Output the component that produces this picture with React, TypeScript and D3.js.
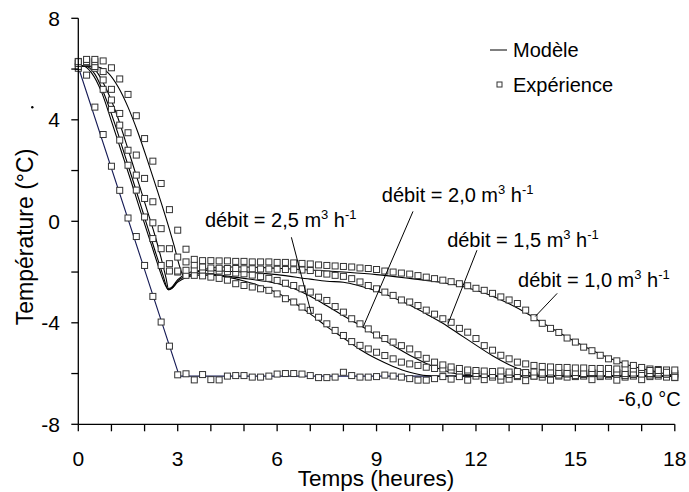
import React from "react";
import * as d3 from "d3";

// ---------- DATA ----------
// Sampling times of the experimental measurements (hours)
const times = [
  0, 0.25, 0.5, 0.75, 1, 1.25, 1.5, 1.75, 2, 2.25, 2.5, 2.75, 3,
  3.25, 3.5, 3.75, 4, 4.25, 4.5, 4.75, 5,
  5.25, 5.5, 5.75, 6, 6.25, 6.5, 6.75, 7,
  7.25, 7.5, 7.75, 8, 8.25, 8.5, 8.75, 9,
  9.25, 9.5, 9.75, 10, 10.25, 10.5, 10.75, 11,
  11.25, 11.5, 11.75, 12, 12.25, 12.5, 12.75, 13,
  13.25, 13.5, 13.75, 14, 14.25, 14.5, 14.75, 15,
  15.25, 15.5, 15.75, 16, 16.25, 16.5, 16.75, 17,
  17.25, 17.5, 17.75, 18,
];

// Experimental temperatures (°C)
const expRef = [
  6.03, 5.76, 4.5, 3.42, 2.17, 1.22, 0.13, -0.6, -1.74, -2.96, -3.97, -4.92, -6.05,
  -6.01, -6.25, -6.04, -6.24, -6.25, -6.1, -6.08, -6.08,
  -6.14, -6.14, -6.1, -6.02, -6.0, -6.0, -6.02, -6.08,
  -6.16, -6.16, -6.14, -5.95, -6.08, -6.14, -6.14, -6.12,
  -6.06, -6.1, -6.14, -6.2, -6.26, -6.26, -6.2, -6.12,
  -6.22, -6.12, -6.26, -6.1, -6.24, -6.14, -6.26, -6.22,
  -6.12, -6.28, -6.1, -6.14, -6.26, -6.1, -6.14, -6.12,
  -6.1, -6.24, -6.12, -6.1, -6.26, -6.14, -6.1, -6.24,
  -6.12, -6.1, -6.14, -6.16,
];
const exp10 = [
  6.29, 6.38, 6.38, 6.32, 6.05, 5.61, 5.0, 4.16, 3.26, 2.37, 1.49, 0.46, -0.35,
  -1.1, -1.5, -1.55, -1.55, -1.56, -1.56, -1.58, -1.58,
  -1.6, -1.6, -1.6, -1.62, -1.62, -1.64, -1.66, -1.68,
  -1.72, -1.74, -1.76, -1.78, -1.8, -1.84, -1.86, -1.9,
  -1.96, -2.0, -2.04, -2.08, -2.14, -2.2, -2.26, -2.32,
  -2.38, -2.46, -2.54, -2.64, -2.72, -2.84, -2.98, -3.1,
  -3.24, -3.5, -3.8, -4.02, -4.22, -4.38, -4.6, -4.76,
  -4.96, -5.1, -5.28, -5.42, -5.5, -5.62, -5.68, -5.76,
  -5.88, -5.88, -5.95, -6.15,
];
const exp15 = [
  6.22, 6.29, 6.29, 5.9, 5.2, 4.25, 3.49, 2.61, 1.69, 0.77, -0.29, -1.08, -1.41,
  -1.6, -1.72, -1.8, -1.84, -1.85, -1.86, -1.86, -1.87,
  -1.87, -1.88, -1.88, -1.89, -1.9, -1.91, -1.92, -1.94,
  -2.05, -2.08, -2.13, -2.17, -2.26, -2.39, -2.53, -2.66,
  -2.79, -2.92, -3.1, -3.18, -3.32, -3.5, -3.66, -3.84,
  -3.98, -4.22, -4.37, -4.62, -4.9, -5.08, -5.28, -5.42,
  -5.55, -5.62, -5.68, -5.72, -5.74, -5.76, -5.76, -5.78,
  -5.78, -5.8, -5.8, -5.8, -5.82, -5.8, -5.82, -5.84,
  -5.82, -5.84, -5.86, -5.86,
];
const exp20 = [
  6.1, 6.3, 6.1, 5.57, 4.78, 3.79, 2.8, 1.82, 0.9, -0.06, -1.08, -1.67, -1.96,
  -1.93, -1.91, -1.92, -1.94, -1.96, -1.99, -2.04, -2.07,
  -2.12, -2.18, -2.25, -2.33, -2.44, -2.53, -2.66, -2.79,
  -2.99, -3.12, -3.36, -3.58, -3.84, -4.04, -4.24, -4.48,
  -4.62, -4.76, -4.9, -5.03, -5.26, -5.4, -5.55, -5.66,
  -5.74, -5.8, -5.86, -5.88, -5.9, -5.92, -5.9, -5.94,
  -5.92, -5.96, -5.94, -5.98, -5.94, -5.96, -5.98, -5.96,
  -6.0, -5.96, -5.98, -6.0, -5.96, -6.0, -5.98, -6.02,
  -6.0, -5.98, -6.02, -6.0,
];
const exp25 = [
  6.3, 6.25, 6.03, 5.2, 4.41, 3.2, 2.21, 1.23, 0.17, -0.68, -1.74, -1.96, -2.0,
  -2.13, -2.13, -2.15, -2.2, -2.25, -2.32, -2.46, -2.53,
  -2.59, -2.66, -2.72, -2.86, -3.05, -3.18, -3.38, -3.51,
  -3.78, -4.04, -4.3, -4.5, -4.74, -4.89, -5.03, -5.16,
  -5.29, -5.42, -5.55, -5.62, -5.68, -5.75, -5.8, -5.82,
  -5.86, -5.9, -5.92, -6.0, -6.04, -6.06, -6.1, -6.04,
  -6.08, -6.02, -6.1, -6.04, -6.0, -6.06, -6.02, -6.08,
  -6.04, -6.0, -6.06, -6.04, -6.02, -6.08, -6.04, -6.0,
  -6.06, -6.04, -6.02, -6.06,
];

// Model curves (time, temperature) key points
const modelRefT = [0, 3.05, 18];
const modelRefV = [6.08, -6.1, -6.1];

const model25T = [0, 0.15, 0.4, 0.7, 1.0, 1.3, 1.6, 1.9, 2.2, 2.45, 2.62, 2.72, 2.82, 3.0, 3.25, 3.6, 4.0, 4.5, 5.0, 5.5, 6.0, 6.5, 7.0, 7.5, 8.0, 8.5, 9.0, 9.5, 10.0, 10.5, 11, 18];
const model25V = [6.12, 6.12, 5.85, 5.1, 3.95, 2.75, 1.55, 0.3, -0.9, -1.9, -2.5, -2.7, -2.65, -2.4, -2.22, -2.12, -2.12, -2.2, -2.35, -2.55, -2.82, -3.2, -3.65, -4.15, -4.6, -5.05, -5.42, -5.72, -5.95, -6.08, -6.1, -6.1];

const model20T = [0, 0.2, 0.5, 0.8, 1.1, 1.4, 1.7, 2.0, 2.3, 2.55, 2.72, 2.85, 3.0, 3.25, 3.6, 4.0, 4.6, 5.0, 5.5, 6.0, 6.5, 7.0, 7.5, 8.0, 8.5, 9.0, 9.5, 10.0, 10.5, 11.0, 11.5, 12, 18];
const model20V = [6.12, 6.12, 5.8, 4.95, 3.85, 2.62, 1.4, 0.15, -1.1, -2.1, -2.7, -2.6, -2.35, -2.15, -2.05, -2.08, -2.18, -2.25, -2.34, -2.45, -2.65, -2.95, -3.33, -3.72, -4.1, -4.5, -4.9, -5.28, -5.6, -5.86, -6.04, -6.1, -6.1];

const model15T = [0, 0.25, 0.55, 0.85, 1.15, 1.45, 1.75, 2.05, 2.3, 2.5, 2.65, 2.72, 2.8, 3.0, 3.25, 3.6, 4.0, 4.6, 5, 6, 7, 7.5, 8.0, 8.5, 9.0, 9.5, 10.0, 10.5, 11.0, 11.5, 12.0, 12.5, 13.0, 13.5, 14.0, 14.5, 18];
const model15V = [6.12, 6.12, 5.9, 5.2, 4.25, 3.05, 1.8, 0.55, -0.5, -1.45, -2.25, -2.65, -2.62, -2.3, -2.08, -1.95, -1.93, -1.98, -2.0, -2.1, -2.28, -2.36, -2.4, -2.55, -2.75, -3.0, -3.3, -3.65, -4.02, -4.45, -4.88, -5.3, -5.65, -5.92, -6.08, -6.1, -6.1];

const model10T = [0, 0.3, 0.6, 0.9, 1.2, 1.5, 1.8, 2.1, 2.4, 2.7, 2.9, 3.05, 3.15, 3.25, 3.45, 3.8, 4.2, 5, 6, 7, 8, 9, 10, 11, 11.6, 12, 12.5, 13, 13.5, 14, 14.5, 15, 15.5, 16, 16.5, 17, 17.5, 18];
const model10V = [6.12, 6.12, 6.08, 5.85, 5.3, 4.5, 3.5, 2.35, 1.15, -0.1, -1.0, -1.75, -2.1, -2.18, -2.08, -1.9, -1.8, -1.8, -1.85, -1.92, -2.0, -2.1, -2.25, -2.42, -2.57, -2.72, -2.95, -3.25, -3.6, -4.0, -4.38, -4.75, -5.08, -5.38, -5.62, -5.8, -5.95, -6.08];

// Axis ticks
const xMajor = [0, 3, 6, 9, 12, 15, 18];
const xMinor = [0, 1, 2, 3, 4, 5, 6, 7, 8, 9, 10, 11, 12, 13, 14, 15, 16, 17, 18];
const yMajor = [8, 4, 0, -4, -8];
const yMinor = [8, 6, 4, 2, 0, -2, -4, -6, -8];

// Annotations: label position and leader line (data units)
const annoLabels = ["2,5", "2,0", "1,5", "1,0"];
const annoTextT = [3.82, 9.16, 11.13, 13.27];
const annoTextV = [-0.24, 0.76, -1.01, -2.59];
const annoFromT = [6.43, 10.1, 12.03, 14.45];
const annoFromV = [-0.63, 0.39, -1.14, -2.84];
const annoToT = [7.03, 8.6, 11.16, 13.79];
const annoToV = [-3.63, -4.15, -4.03, -3.75];

// ---------- CHART ----------
const W = 689;
const H = 492;
const FONT = "'Liberation Sans', Arial, Helvetica, sans-serif";

export default function App() {
  const x = d3.scaleLinear().domain([0, 18]).range([78.3, 674.8]);
  const y = d3.scaleLinear().domain([-8, 8]).range([424.3, 18.3]);

  const line = d3
    .line<[number, number]>()
    .x((d) => x(d[0]))
    .y((d) => y(d[1]))
    .curve(d3.curveMonotoneX);
  const lineLin = d3
    .line<[number, number]>()
    .x((d) => x(d[0]))
    .y((d) => y(d[1]));

  const zip = (a: number[], b: number[]) =>
    a.map((t, i) => [t, b[i]] as [number, number]).filter((d) => d[1] !== undefined);

  const models = [
    { path: lineLin(zip(modelRefT, modelRefV)), color: "#151a55" },
    { path: line(zip(model25T, model25V)), color: "#000" },
    { path: line(zip(model20T, model20V)), color: "#000" },
    { path: line(zip(model15T, model15V)), color: "#000" },
    { path: line(zip(model10T, model10V)), color: "#000" },
  ];
  const exps = [expRef, exp25, exp20, exp15, exp10];
  const ms = 6;

  const x0 = x(0);
  const yBase = y(-8);

  return (
    <svg
      width={W}
      height={H}
      style={{ position: "absolute", left: 0, top: 0, background: "#fff" }}
      fontFamily={FONT}
    >
      <rect x={0} y={0} width={W} height={H} fill="#fff" />

      {/* model lines */}
      {models.map((m, i) => (
        <path key={"m" + i} d={m.path || ""} fill="none" stroke={m.color} strokeWidth={1.1} />
      ))}

      {/* experimental markers */}
      {exps.map((vals, si) =>
        vals.map((v, i) => (
          <rect
            key={"e" + si + "-" + i}
            x={x(times[i]) - ms / 2}
            y={y(v) - ms / 2}
            width={ms}
            height={ms}
            fill="#fff"
            stroke="#333"
            strokeWidth={1}
          />
        ))
      )}

      {/* axes */}
      <line x1={x0} x2={x0} y1={y(8)} y2={yBase} stroke="#000" strokeWidth={1.3} />
      <line x1={x0} x2={x(18)} y1={yBase} y2={yBase} stroke="#000" strokeWidth={1.3} />
      {yMinor.map((v) => (
        <line key={"yt" + v} x1={x0 - 7} x2={x0} y1={y(v)} y2={y(v)} stroke="#000" strokeWidth={1.3} />
      ))}
      {xMinor.map((t) => (
        <line key={"xt" + t} x1={x(t)} x2={x(t)} y1={yBase} y2={yBase + 7} stroke="#000" strokeWidth={1.3} />
      ))}
      {yMajor.map((v) => (
        <text key={"yl" + v} x={60} y={y(v)} dy="0.36em" textAnchor="end" fontSize={21} fill="#000">
          {String(v)}
        </text>
      ))}
      {xMajor.map((t) => (
        <text key={"xl" + t} x={x(t)} y={465.5} textAnchor="middle" fontSize={21} fill="#000">
          {String(t)}
        </text>
      ))}

      {/* axis titles */}
      <text x={376} y={486} textAnchor="middle" fontSize={22.5} fill="#000">
        Temps (heures)
      </text>
      <text
        transform={`translate(33,237) rotate(-90)`}
        textAnchor="middle"
        fontSize={23}
        fill="#000"
      >
        Température (°C)
      </text>
      <circle cx={32.3} cy={107.3} r={1.2} fill="#000" />

      {/* legend */}
      <line x1={490} x2={507} y1={50} y2={50} stroke="#000" strokeWidth={1} />
      <text x={513} y={57} fontSize={20} fill="#000">Modèle</text>
      <rect x={497} y={82} width={5} height={5} fill="#fff" stroke="#333" strokeWidth={1} />
      <text x={513} y={92} fontSize={20} fill="#000">Expérience</text>

      {/* annotations */}
      {annoLabels.map((lab, i) => (
        <g key={"a" + i}>
          <line
            x1={x(annoFromT[i])}
            y1={y(annoFromV[i])}
            x2={x(annoToT[i])}
            y2={y(annoToV[i])}
            stroke="#000"
            strokeWidth={1}
          />
          <text x={x(annoTextT[i])} y={y(annoTextV[i])} fontSize={20} fill="#000">
            {"débit = " + lab + " m"}
            <tspan dy={-8} fontSize={13}>3</tspan>
            <tspan dy={8}> h</tspan>
            <tspan dy={-8} fontSize={13}>-1</tspan>
          </text>
        </g>
      ))}
      <text x={x(16.29)} y={y(-7.26)} fontSize={20} fill="#000">-6,0 °C</text>
    </svg>
  );
}
